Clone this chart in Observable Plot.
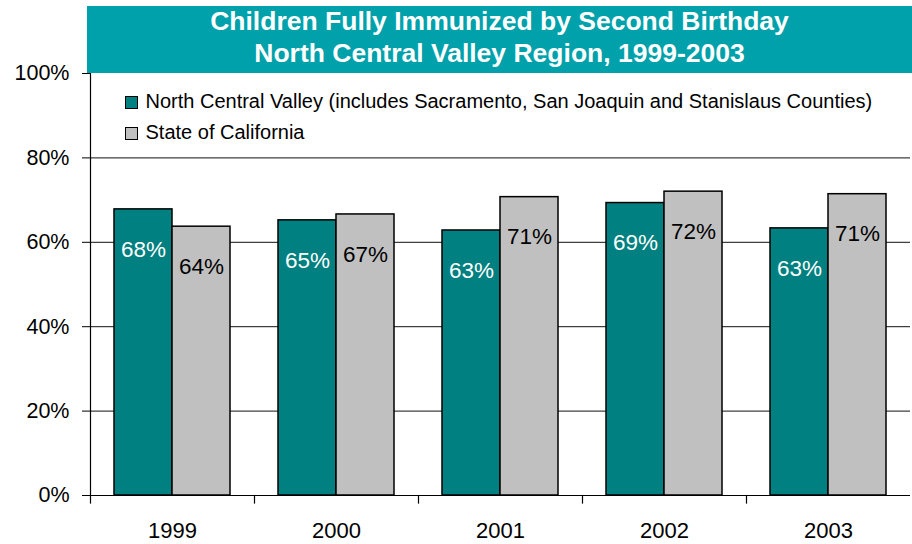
<!DOCTYPE html>
<html>
<head>
<meta charset="utf-8">
<script src="https://cdn.jsdelivr.net/npm/d3@7"></script>
<script src="https://cdn.jsdelivr.net/npm/@observablehq/plot@0.6"></script>
<style>
  html, body { margin: 0; padding: 0; background: #fff; }
  #wrap { position: relative; width: 912px; height: 544px; font-family: "Liberation Sans", Arial, sans-serif; overflow: hidden; }
  #banner { position: absolute; left: 87px; top: 6px; width: 825px; height: 67px; background: #00A1AA; color: #fff;
            font-weight: bold; font-size: 26.5px; line-height: 31.6px; text-align: center; }
  .sw { position: absolute; box-sizing: border-box; width: 13px; height: 13px; border: 1.5px solid #000; }
  .lt { position: absolute; font-size: 20px; line-height: 20px; color: #000; white-space: nowrap; }
</style>
</head>
<body>
<div id="wrap">
  <div id="chart"></div>
  <div id="banner"></div>
  <div id="legend"></div>
</div>
<script>
const titleLines = ["Children Fully Immunized by Second Birthday", "North Central Valley Region, 1999-2003"];
const years = ["1999", "2000", "2001", "2002", "2003"];
const seriesNames = ["North Central Valley (includes Sacramento, San Joaquin and Stanislaus Counties)", "State of California"];
const seriesColors = ["#008080", "#C0C0C0"];
const labelColors = ["#ffffff", "#000000"];
const northCentralValley = [67.8, 65.2, 62.8, 69.3, 63.3];
const stateOfCalifornia = [63.7, 66.6, 70.7, 72.0, 71.4];
const yTicks = [0, 20, 40, 60, 80, 100];
const gridValues = [20, 40, 60, 80];

const rows = [];
years.forEach((yr, i) => {
  rows.push({year: yr, series: seriesNames[0], value: northCentralValley[i]});
  rows.push({year: yr, series: seriesNames[1], value: stateOfCalifornia[i]});
});

const chart = Plot.plot({
  width: 912,
  height: 544,
  marginLeft: 88,
  marginRight: 0,
  marginTop: 73,
  marginBottom: 49,
  style: {fontFamily: "'Liberation Sans', Arial, sans-serif", background: "transparent", color: "#000"},
  fx: {domain: years, padding: 0, label: null},
  x: {domain: seriesNames, paddingInner: 0, paddingOuter: 0.4, axis: null},
  y: {domain: [0, 100], axis: null},
  color: {domain: seriesNames, range: seriesColors},
  marks: [
    Plot.ruleY(gridValues, {stroke: "#111", strokeWidth: 1}),
    Plot.ruleY([0], {stroke: "#000", strokeWidth: 1.2}),
    Plot.frame({anchor: "left", facetAnchor: "left", stroke: "#000", strokeWidth: 1.2}),
    Plot.frame({anchor: "left", stroke: "#000", strokeWidth: 1.2, insetTop: 422, insetBottom: -7.5}),
    Plot.axisY({ticks: yTicks, tickFormat: d => d + "%", tickSize: 8, tickPadding: 13, fontSize: 21.5, label: null, stroke: "#000"}),
    Plot.axisFx({anchor: "bottom", tickSize: 0, tickPadding: 27, fontSize: 22, label: null}),
    Plot.barY(rows, {fx: "year", x: "series", y: "value", fill: "series", stroke: "#000", strokeWidth: 1.5}),
    Plot.text(rows, {
      fx: "year", x: "series", y: "value",
      text: d => Math.round(d.value) + "%",
      fill: d => labelColors[seriesNames.indexOf(d.series)],
      dy: 40, fontSize: 22.5
    })
  ]
});
document.getElementById("chart").appendChild(chart);

document.getElementById("banner").innerHTML = titleLines.map(t => `<div>${t}</div>`).join("");

const legend = document.getElementById("legend");
const legendTops = [96, 127];
seriesNames.forEach((name, i) => {
  const sw = document.createElement("div");
  sw.className = "sw";
  sw.style.left = "125px";
  sw.style.top = legendTops[i] + "px";
  sw.style.background = seriesColors[i];
  legend.appendChild(sw);
  const lt = document.createElement("div");
  lt.className = "lt";
  lt.style.left = "145.5px";
  lt.style.top = (legendTops[i] + 12.3 - 17.2) + "px";
  lt.textContent = name;
  legend.appendChild(lt);
});
</script>
</body>
</html>
